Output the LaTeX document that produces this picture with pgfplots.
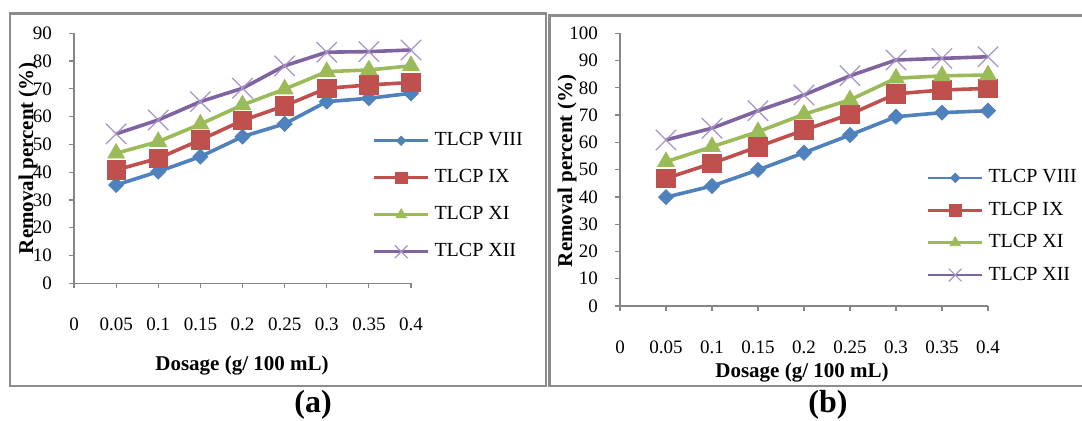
\documentclass[border=0pt]{standalone}
\usepackage{fontspec}
\setmainfont{Liberation Serif}
\usepackage{pgfplots}
\pgfplotsset{compat=1.18}
\definecolor{cblue}{HTML}{4F81BD}
\definecolor{cred}{HTML}{C0504D}
\definecolor{cgreen}{HTML}{9BBB59}
\definecolor{cpurple}{HTML}{8064A2}
\definecolor{cxmark}{HTML}{A794C4}
\definecolor{axgray}{HTML}{868686}
\definecolor{framegray}{HTML}{8C8C8C}

\pgfplotsset{
  panel/.style={
    scale only axis,
    clip=false,
    axis x line*=bottom, axis y line*=left,
    axis line style={draw=axgray, line width=0.6pt, -},
    tick style={draw=axgray, line width=0.6pt},
    tick align=outside, major tick length=2.5pt,
    xmin=0, xmax=0.4, ymin=0,
    xtick={0,0.05,0.1,0.15,0.2,0.25,0.3,0.35,0.4},
    xticklabels={0,0.05,0.1,0.15,0.2,0.25,0.3,0.35,0.4},
    xticklabel style={anchor=center, yshift=-18pt, font=\fontsize{9.5}{11}\selectfont},
    yticklabel style={anchor=east, xshift=-5pt, font=\fontsize{9.5}{11}\selectfont},
    /pgf/number format/assume math mode=true,
    every axis plot/.append style={line width=1.8pt},
    legend image code/.code={\draw[#1, line width=1.3pt, mark repeat=2, mark phase=2, every mark/.append style={scale=0.62}] plot coordinates {(0pt,0pt) (13.5pt,0pt) (27pt,0pt)};},
    legend style={draw=none, fill=none, inner sep=0pt, outer sep=0pt, anchor=north west,
      font=\fontsize{10}{12}\selectfont,
      nodes={inner sep=1pt, text height=7pt, text depth=2pt}, column sep=1.5pt},
    legend cell align=left,
  },
  s1/.style={color=cblue, mark=square*, mark size=2.65pt, mark options={rotate=45, fill=cblue, draw=cblue, line width=0.4pt}},
  s2/.style={color=cred, mark=square*, mark size=4.6pt, mark options={fill=cred, draw=cred, line width=0.4pt}},
  s3/.style={color=cgreen, mark=triangle*, mark size=4.8pt, mark options={fill=cgreen, draw=cgreen, line width=0.4pt}},
  s4/.style={color=cpurple, mark=x, mark size=7.2pt, mark options={draw=cxmark, line width=0.6pt}},
}

\begin{document}
\begin{tikzpicture}
\path[use as bounding box] (0,0) rectangle (541pt,210.5pt);
% frames
\draw[framegray, line width=1.3pt] (5pt,17.5pt) rectangle (273pt,203.85pt);
\draw[framegray, line width=1.3pt] (546pt,202.65pt) -- (274.65pt,202.65pt) -- (274.65pt,17.5pt) -- (546pt,17.5pt);

% panel (a)
\begin{axis}[panel,
  at={(37pt,68.85pt)}, anchor=south west,
  width=168.5pt, height=125pt,
  ymax=90, ytick={0,10,20,30,40,50,60,70,80,90},
  every axis x label/.style={at={(axis description cs:0.4985,-0.327)}, anchor=center, font=\bfseries\fontsize{10.5}{12}\selectfont},
  every axis y label/.style={at={(axis description cs:-0.1365,0.501)}, anchor=center, rotate=90, font=\bfseries\fontsize{10.5}{12}\selectfont},
  xlabel={Dosage (g/ 100 mL)},
  ylabel={Removal percent (\%)},
  legend style={at={(axis description cs:0.887,0.614)}, row sep=7.5pt},
]
\addplot[s1] coordinates {(0.05,35.4) (0.1,40.2) (0.15,45.6) (0.2,52.8) (0.25,57.4) (0.3,65.4) (0.35,66.6) (0.4,68.4)};
\addlegendentry{TLCP VIII}
\addplot[s2] coordinates {(0.05,40.8) (0.1,45.0) (0.15,51.6) (0.2,58.6) (0.25,63.9) (0.3,70.2) (0.35,71.4) (0.4,72.3)};
\addlegendentry{TLCP IX}
\addplot[s3] coordinates {(0.05,46.8) (0.1,51.0) (0.15,57.3) (0.2,64.2) (0.25,69.9) (0.3,76.2) (0.35,76.8) (0.4,78.3)};
\addlegendentry{TLCP XI}
\addplot[s4] coordinates {(0.05,53.8) (0.1,58.8) (0.15,65.4) (0.2,70.2) (0.25,78.3) (0.3,83.2) (0.35,83.4) (0.4,84.0)};
\addlegendentry{TLCP XII}
\end{axis}

% panel (b)
\begin{axis}[panel,
  at={(310pt,57.5pt)}, anchor=south west,
  width=184pt, height=136.35pt,
  ymax=100, ytick={0,10,20,30,40,50,60,70,80,90,100},
  every axis x label/.style={at={(axis description cs:0.4946,-0.2457)}, anchor=center, font=\bfseries\fontsize{10.5}{12}\selectfont},
  every axis y label/.style={at={(axis description cs:-0.144,0.495)}, anchor=center, rotate=90, font=\bfseries\fontsize{10.5}{12}\selectfont},
  xlabel={Dosage (g/ 100 mL)},
  ylabel={Removal percent (\%)},
  legend style={at={(axis description cs:0.834,0.510)}, row sep=5.2pt},
]
\addplot[s1] coordinates {(0.05,39.9) (0.1,44.0) (0.15,49.9) (0.2,56.2) (0.25,62.7) (0.3,69.4) (0.35,70.9) (0.4,71.6)};
\addlegendentry{TLCP VIII}
\addplot[s2] coordinates {(0.05,46.8) (0.1,52.3) (0.15,58.4) (0.2,64.5) (0.25,70.3) (0.3,77.8) (0.35,79.2) (0.4,79.8)};
\addlegendentry{TLCP IX}
\addplot[s3] coordinates {(0.05,52.9) (0.1,58.4) (0.15,63.9) (0.2,70.3) (0.25,75.6) (0.3,83.5) (0.35,84.4) (0.4,84.7)};
\addlegendentry{TLCP XI}
\addplot[s4] coordinates {(0.05,60.9) (0.1,65.2) (0.15,71.6) (0.2,77.4) (0.25,84.4) (0.3,90.2) (0.35,90.8) (0.4,91.4)};
\addlegendentry{TLCP XII}
\end{axis}

\node[font=\bfseries\fontsize{16}{18}\selectfont] at (156.5pt,8pt) {(a)};
\node[font=\bfseries\fontsize{16}{18}\selectfont] at (414pt,8pt) {(b)};
\end{tikzpicture}
\end{document}
